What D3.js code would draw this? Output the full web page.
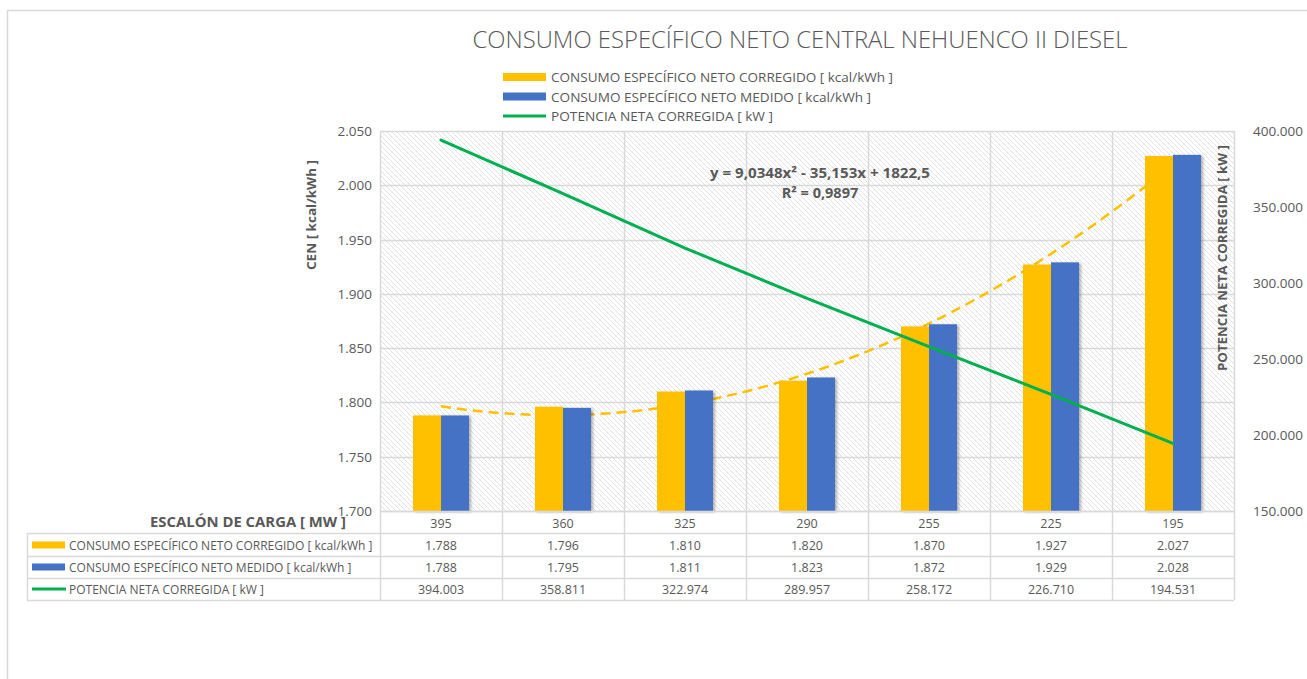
<!DOCTYPE html>
<html>
<head>
<meta charset="utf-8">
<script src="https://cdn.jsdelivr.net/npm/d3@7"></script>
<style>
	body { margin: 0; background: #fff; }
	svg { display: block; font-family: "Open Sans", "Liberation Sans", sans-serif; }
</style>
</head>
<body>
<div class="chart"></div>
<script>
var categories = ['395', '360', '325', '290', '255', '225', '195'];
var corregido = [1788, 1796, 1810, 1820, 1870, 1927, 2027];
var medido = [1788, 1795, 1811, 1823, 1872, 1929, 2028];
var potencia = [394003, 358811, 322974, 289957, 258172, 226710, 194531];
var leftTicks = [1700, 1750, 1800, 1850, 1900, 1950, 2000, 2050];
var rightTicks = [150000, 200000, 250000, 300000, 350000, 400000];
var trendCoef = [9.0348, -35.153, 1822.5]; // a x^2 + b x + c, x = 1..7

var seriesNames = [
	'CONSUMO ESPECÍFICO NETO CORREGIDO [ kcal/kWh ]',
	'CONSUMO ESPECÍFICO NETO MEDIDO [ kcal/kWh ]',
	'POTENCIA NETA CORREGIDA [ kW ]'
];

var width = 1307;
var height = 679;
var yellow = '#ffc000', blue = '#4472c4', green = '#00b050';
var grey = '#595959', gridCol = '#d9d9d9';

var plot = { left: 380, right: 1234, top: 131, bottom: 511 };

var locale = d3.formatLocale({ decimal: ',', thousands: '.', grouping: [3], currency: ['', ''] });
var fmt = locale.format(',.0f');

var svg = d3.select('.chart').append('svg')
	.attr('width', width)
	.attr('height', height);

var defs = svg.append('defs');
var pat = defs.append('pattern')
	.attr('id', 'hatch')
	.attr('patternUnits', 'userSpaceOnUse')
	.attr('width', 5).attr('height', 5);
pat.append('rect').attr('width', 5).attr('height', 5).attr('fill', '#fff');
pat.append('path')
	.attr('d', 'M-1,-1 L6,6 M-1,4 L1,6 M4,-1 L6,1')
	.attr('stroke', '#e2e2e2').attr('stroke-width', 1);

var shadow = defs.append('filter').attr('id', 'shadow')
	.attr('x', '-20%').attr('y', '-20%').attr('width', '150%').attr('height', '150%');
shadow.append('feDropShadow')
	.attr('dx', 2).attr('dy', 1).attr('stdDeviation', 1.5)
	.attr('flood-color', '#000').attr('flood-opacity', 0.3);

// outer chart border
svg.append('rect')
	.attr('x', 7.5).attr('y', 10.5)
	.attr('width', width).attr('height', height)
	.attr('fill', 'none').attr('stroke', gridCol).attr('stroke-width', 1.5);

var x = d3.scaleBand().domain(categories).range([plot.left, plot.right]).padding(0);
var bw = x.bandwidth();
var barW = 28;
var y = d3.scaleLinear().domain([1700, 2050]).range([plot.bottom, plot.top]);
var y2 = d3.scaleLinear().domain([150000, 400000]).range([plot.bottom, plot.top]);

// plot background
svg.append('rect')
	.attr('x', plot.left).attr('y', plot.top)
	.attr('width', plot.right - plot.left).attr('height', plot.bottom - plot.top)
	.attr('fill', 'url(#hatch)');

// grid
svg.append('g').selectAll('line')
	.data(leftTicks)
	.enter().append('line')
	.attr('x1', plot.left).attr('x2', plot.right)
	.attr('y1', function(d) { return Math.round(y(d)) + 0.5; })
	.attr('y2', function(d) { return Math.round(y(d)) + 0.5; })
	.attr('stroke', gridCol).attr('stroke-width', 1.5);

var colEdges = categories.map(function(c) { return x(c); }).concat([plot.right]);
svg.append('g').selectAll('line')
	.data(colEdges)
	.enter().append('line')
	.attr('x1', function(d) { return Math.round(d) + 0.5; })
	.attr('x2', function(d) { return Math.round(d) + 0.5; })
	.attr('y1', plot.top).attr('y2', 600)
	.attr('stroke', gridCol).attr('stroke-width', 1.5);

// trendline (behind bars)
var trendX = d3.range(1, 7.001, 0.1);
function trend(t) { return trendCoef[0] * t * t + trendCoef[1] * t + trendCoef[2]; }
function trendPx(t) { return x(categories[0]) + bw / 2 + (t - 1) * bw; }
svg.append('path')
	.datum(trendX)
	.attr('d', d3.line()
		.x(function(t) { return trendPx(t); })
		.y(function(t) { return y(trend(t)); })
		.curve(d3.curveMonotoneX))
	.attr('fill', 'none')
	.attr('stroke', yellow).attr('stroke-width', 2.5)
	.attr('stroke-dasharray', '10,6');

// bars
var bars = svg.append('g').attr('filter', 'url(#shadow)');
bars.selectAll('rect.corr')
	.data(corregido)
	.enter().append('rect')
	.attr('class', 'corr')
	.attr('x', function(d, i) { return x(categories[i]) + bw / 2 - barW; })
	.attr('y', function(d) { return y(d); })
	.attr('width', barW)
	.attr('height', function(d) { return plot.bottom - y(d); })
	.attr('fill', yellow);
bars.selectAll('rect.med')
	.data(medido)
	.enter().append('rect')
	.attr('class', 'med')
	.attr('x', function(d, i) { return x(categories[i]) + bw / 2; })
	.attr('y', function(d) { return y(d); })
	.attr('width', barW)
	.attr('height', function(d) { return plot.bottom - y(d); })
	.attr('fill', blue);

// potencia line
svg.append('path')
	.datum(potencia)
	.attr('d', d3.line()
		.x(function(d, i) { return x(categories[i]) + bw / 2; })
		.y(function(d) { return y2(d); }))
	.attr('fill', 'none')
	.attr('stroke', green).attr('stroke-width', 3)
	.attr('stroke-linecap', 'round');

// axes labels
svg.append('g').selectAll('text')
	.data(leftTicks)
	.enter().append('text')
	.attr('x', 372).attr('y', function(d) { return y(d) + 5; })
	.attr('text-anchor', 'end')
	.attr('font-size', 13.5).attr('fill', grey)
	.text(fmt);

svg.append('g').selectAll('text')
	.data(rightTicks)
	.enter().append('text')
	.attr('x', 1253).attr('y', function(d) { return y2(d) + 5; })
	.attr('font-size', 13.5).attr('fill', grey)
	.text(fmt);

svg.append('text')
	.attr('transform', 'translate(316,215) rotate(-90)')
	.attr('text-anchor', 'middle')
	.attr('font-size', 13).attr('font-weight', 'bold').attr('fill', grey)
	.attr('textLength', 110).attr('lengthAdjust', 'spacingAndGlyphs')
	.text('CEN [ kcal/kWh ]');

svg.append('text')
	.attr('transform', 'translate(1227,258) rotate(-90)')
	.attr('text-anchor', 'middle')
	.attr('font-size', 12.5).attr('font-weight', 'bold').attr('fill', grey)
	.attr('textLength', 226).attr('lengthAdjust', 'spacingAndGlyphs')
	.text('POTENCIA NETA CORREGIDA [ kW ]');

// title
svg.append('text')
	.attr('x', 800).attr('y', 48)
	.attr('text-anchor', 'middle')
	.attr('font-size', 24).attr('font-weight', 300).attr('fill', grey)
	.attr('textLength', 655).attr('lengthAdjust', 'spacingAndGlyphs')
	.text('CONSUMO ESPECÍFICO NETO CENTRAL NEHUENCO II DIESEL');

// legend
var legendLens = [342, 320, 222];
var legRows = svg.append('g').selectAll('g')
	.data(seriesNames)
	.enter().append('g')
	.attr('transform', function(d, i) { return 'translate(503,' + (77 + i * 19.5) + ')'; });
legRows.each(function(d, i) {
	var g = d3.select(this);
	if (i < 2) {
		g.append('rect').attr('x', 0).attr('y', -4).attr('width', 43).attr('height', 8)
			.attr('fill', i === 0 ? yellow : blue);
	} else {
		g.append('line').attr('x1', 0).attr('x2', 43).attr('y1', 0).attr('y2', 0)
			.attr('stroke', green).attr('stroke-width', 3);
	}
	g.append('text').attr('x', 48).attr('y', 5)
		.attr('font-size', 13.5).attr('fill', grey)
		.attr('textLength', legendLens[i]).attr('lengthAdjust', 'spacingAndGlyphs')
		.text(d);
});

// equation
svg.append('text')
	.attr('x', 820).attr('y', 178)
	.attr('text-anchor', 'middle')
	.attr('font-size', 14.5).attr('font-weight', 'bold').attr('fill', grey)
	.attr('textLength', 220).attr('lengthAdjust', 'spacingAndGlyphs')
	.text('y = 9,0348x² - 35,153x + 1822,5');
svg.append('text')
	.attr('x', 820).attr('y', 198)
	.attr('text-anchor', 'middle')
	.attr('font-size', 14.5).attr('font-weight', 'bold').attr('fill', grey)
	.text('R² = 0,9897');

// data table
var rowLines = [533, 556, 578, 600];
svg.append('g').selectAll('line')
	.data(rowLines)
	.enter().append('line')
	.attr('x1', 27).attr('x2', plot.right)
	.attr('y1', function(d) { return d + 0.5; })
	.attr('y2', function(d) { return d + 0.5; })
	.attr('stroke', gridCol).attr('stroke-width', 1.5);
svg.append('line')
	.attr('x1', 27.5).attr('x2', 27.5).attr('y1', 533).attr('y2', 600)
	.attr('stroke', gridCol).attr('stroke-width', 1.5);
svg.append('line')
	.attr('x1', plot.left).attr('x2', plot.right)
	.attr('y1', plot.bottom + 0.5).attr('y2', plot.bottom + 0.5)
	.attr('stroke', gridCol).attr('stroke-width', 1.5);

svg.append('text')
	.attr('x', 346).attr('y', 527)
	.attr('text-anchor', 'end')
	.attr('font-size', 14.5).attr('font-weight', 'bold').attr('fill', grey)
	.attr('textLength', 196).attr('lengthAdjust', 'spacingAndGlyphs')
	.text('ESCALÓN DE CARGA [ MW ]');

var tableRows = [
	{ y: 528, vals: categories, fmt: function(d) { return d; } },
	{ y: 550, vals: corregido, fmt: fmt },
	{ y: 572, vals: medido, fmt: fmt },
	{ y: 594, vals: potencia, fmt: fmt }
];
tableRows.forEach(function(r) {
	svg.append('g').selectAll('text')
		.data(r.vals)
		.enter().append('text')
		.attr('x', function(d, i) { return x(categories[i]) + bw / 2; })
		.attr('y', r.y)
		.attr('text-anchor', 'middle')
		.attr('font-size', 12.5).attr('fill', grey)
		.text(r.fmt);
});

var tLegend = svg.append('g').selectAll('g')
	.data(seriesNames)
	.enter().append('g')
	.attr('transform', function(d, i) { return 'translate(32,' + (545 + i * 22) + ')'; });
tLegend.each(function(d, i) {
	var g = d3.select(this);
	if (i < 2) {
		g.append('rect').attr('x', 0).attr('y', -3.5).attr('width', 33).attr('height', 7)
			.attr('fill', i === 0 ? yellow : blue);
	} else {
		g.append('line').attr('x1', 0).attr('x2', 34).attr('y1', 0).attr('y2', 0)
			.attr('stroke', green).attr('stroke-width', 3);
	}
	g.append('text').attr('x', 37).attr('y', 4.5)
		.attr('font-size', 12).attr('fill', grey)
		.text(d);
});
</script>
</body>
</html>
